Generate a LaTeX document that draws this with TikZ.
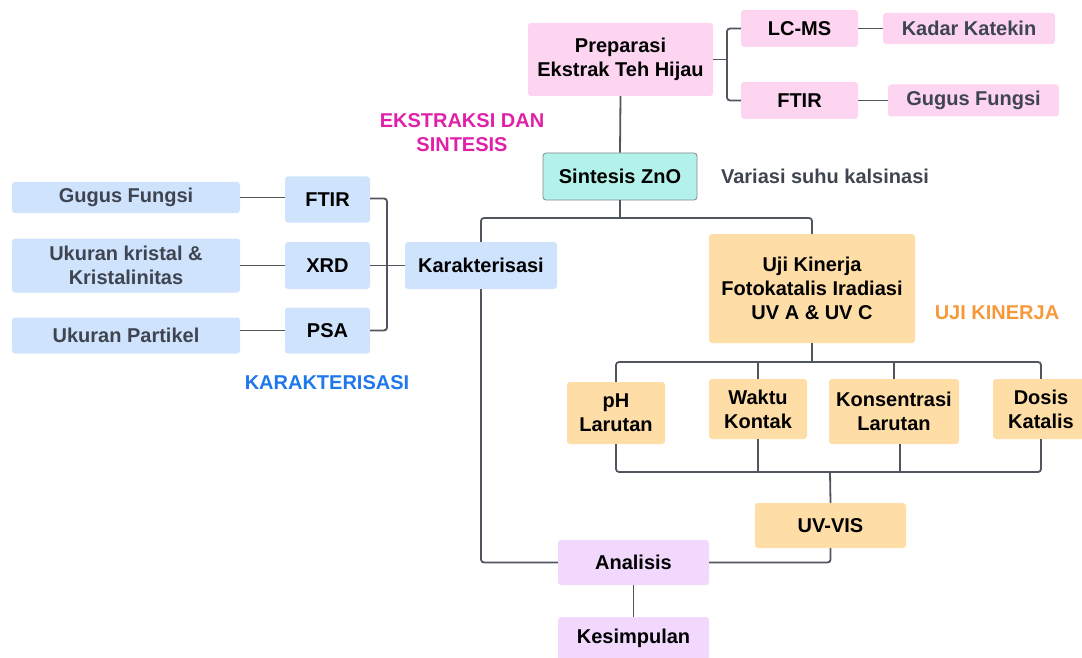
\documentclass[tikz,border=0pt]{standalone}
\usepackage{fontspec}
\setmainfont{Liberation Sans}
\usetikzlibrary{positioning,calc}
\definecolor{pinkbx}{HTML}{FDD5F1}
\definecolor{bluebx}{HTML}{CFE3FD}
\definecolor{orgbx}{HTML}{FEDDA6}
\definecolor{lilacbx}{HTML}{F1D8FC}
\definecolor{mintbx}{HTML}{B3F2EA}
\definecolor{lnc}{HTML}{50555E}
\definecolor{subtxt}{HTML}{3F4550}
\definecolor{magtxt}{HTML}{E020A8}
\definecolor{bluetxt}{HTML}{1F78EB}
\definecolor{orgtxt}{HTML}{F7993A}
\tikzset{x=1pt,y=-1pt,
bx/.style={rectangle,rounded corners=3pt,inner sep=0pt,align=center,
  font=\bfseries\fontsize{20}{24}\selectfont},
sz/.style 2 args={minimum width=#1pt,minimum height=#2pt},
pb/.style={bx,fill=pinkbx},
bb/.style={bx,fill=bluebx},
ob/.style={bx,fill=orgbx},
lb/.style={bx,fill=lilacbx},
mb/.style={bx,fill=mintbx,draw=lnc!70,line width=0.8pt},
sub/.style={text=subtxt},
tag/.style={bx,text=#1},
ln/.style={draw=lnc,line width=1.8pt,rounded corners=3pt},
}
\begin{document}
\begin{tikzpicture}
	\useasboundingbox (0,0) rectangle (1082,658);
	% ekstraksi dan sintesis
	\node[pb,sz={185}{73}] (prep) at (620.5,59.5) {Preparasi\\Ekstrak Teh Hijau};
	\node[pb,sz={117}{37}] (lcms) at (799.5,28.5) {LC-MS};
	\node[pb,sub,sz={172}{31}] (kadar) at (969,28.5) {Kadar Katekin};
	\node[pb,sz={117}{37}] (ftirA) at (799.5,100.5) {FTIR};
	\node[pb,sub,sz={171}{32}] (gugusA) at (973.5,100.5) {Gugus Fungsi};
	\node[mb,sz={154}{47}] (zno) at (620,176.5) {Sintesis ZnO};
	\node[tag=subtxt] (variasi) at (825,176) {Variasi suhu kalsinasi};
	\node[tag=magtxt] (ekstr) at (462,133) {EKSTRAKSI DAN\\SINTESIS};

	% karakterisasi
	\node[bb,sz={152}{47}] (karak) at (481,265.5) {Karakterisasi};
	\node[bb,sz={85}{46}] (ftirB) at (327.5,199.5) {FTIR};
	\node[bb,sz={85}{47}] (xrd) at (327.5,265.5) {XRD};
	\node[bb,sz={85}{46}] (psa) at (327.5,330.5) {PSA};
	\node[bb,sub,sz={228}{31}] (gugusB) at (126,197.5) {Gugus Fungsi};
	\node[bb,sub,sz={228}{54}] (ukk) at (126,265.5) {Ukuran kristal \&\\Kristalinitas};
	\node[bb,sub,sz={228}{36}] (ukp) at (126,335.5) {Ukuran Partikel};
	\node[tag=bluetxt] (karaklbl) at (327,383) {KARAKTERISASI};

	% uji kinerja
	\node[ob,sz={206}{109}] (uji) at (812,288.5) {Uji Kinerja\\Fotokatalis Iradiasi\\UV A \& UV C};
	\node[tag=orgtxt] (ujilbl) at (997,313) {UJI KINERJA};
	\node[ob,sz={98}{62}] (ph) at (616,413) {pH\\Larutan};
	\node[ob,sz={98}{60}] (waktu) at (758,409) {Waktu\\Kontak};
	\node[ob,sz={130}{65}] (kons) at (894,411.5) {Konsentrasi\\Larutan};
	\node[ob,sz={96}{60}] (dosis) at (1041,409) {Dosis\\Katalis};
	\node[ob,sz={151}{45}] (uvvis) at (830.5,525.5) {UV-VIS};
	\node[lb,sz={151}{45}] (anal) at (633.5,562.5) {Analisis};
	\node[lb,sz={151}{43}] (kes) at (633.5,638.5) {Kesimpulan};

	\coordinate (jp) at (727,59.5);
	\coordinate (jz) at (620,218);
	\coordinate (jk) at (387,265.5);
	\coordinate (ju) at (812,362);
	\coordinate (jb) at (830,472);

	\draw[ln] (prep.east) -- (jp);
	\draw[ln] (lcms.west) -| (jp) |- (ftirA.west);
	\draw[ln] (lcms.east) -- (kadar.west);
	\draw[ln] (ftirA.east) -- (gugusA.west);
	\draw[ln] (prep.south) -- (zno.north);
	\draw[ln] (zno.south) -- (jz);
	\draw[ln] (karak.north) |- (jz) -| (uji.north);
	\draw[ln] (karak.south) |- (anal.west);

	\draw[ln] ([yshift=1pt]ftirB.east) -| (jk) |- (psa.east);
	\draw[ln] (xrd.east) -- (karak.west);
	\draw[ln] (gugusB.east) -- (gugusB.east -| ftirB.west);
	\draw[ln] (ukk.east) -- (xrd.west);
	\draw[ln] (ukp.east |- psa.west) -- (psa.west);

	\draw[ln] (uji.south) -- (ju);
	\draw[ln] (ph.north) |- (ju) -| (dosis.north);
	\draw[ln] (waktu.north) -- (waktu.north |- ju);
	\draw[ln] (kons.north) -- (kons.north |- ju);
	\draw[ln] (ph.south) |- (jb) -| (dosis.south);
	\draw[ln] (waktu.south) -- (waktu.south |- jb);
	\draw[ln] ([xshift=6pt]kons.south) -- ([xshift=6pt]kons.south |- jb);
	\draw[ln] (jb) -- (uvvis.north);
	\draw[ln] (uvvis.south) |- (anal.east);
	\draw[ln] (anal.south) -- (kes.north);
\end{tikzpicture}
\end{document}
